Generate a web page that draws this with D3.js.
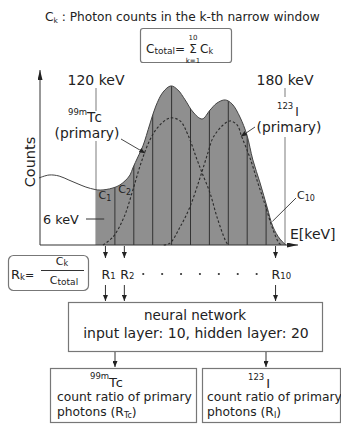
<!DOCTYPE html>
<html><head><meta charset="utf-8">
<script src="https://cdn.jsdelivr.net/npm/d3@7"></script>
<style>
html,body{margin:0;padding:0;background:#fff;}
svg{display:block;font-family:"DejaVu Sans",sans-serif;}
text{fill:#222;}
</style></head><body>
<svg id="chart" width="341" height="424"></svg>
<script>
// Energy spectrum: energy (keV) and relative counts
const energy = [101.9,105.1,108.3,111.4,114.3,116.8,119.7,121.3,123.2,125.4,127.3,129.2,130.8,131.7,133.3,134.9,137.1,139.0,141.3,143.8,146.0,148.3,150.8,153.7,156.2,158.4,161.0,163.2,165.7,167.9,169.8,172.1,174.3,176.2,178.4,180.3];
const counts = [38.3,40.0,39.4,37.1,34.9,33.1,31.7,31.4,31.7,32.6,34.0,36.6,40.0,44.0,50.3,56.6,69.1,79.4,87.4,90.9,88.6,82.9,76.0,72.0,77.1,81.1,82.9,80.6,73.1,62.9,48.6,35.4,21.7,10.3,3.4,0];

// 99mTc primary component
const tcEnergy = [122.2,125.4,128.9,131.7,134.3,137.1,139.7,143.5,146.7,149.2,152.1,153.7,156.2,158.4,161.0,161.9];
const tcCounts = [0,4.6,16.0,31.4,46.9,60.0,67.4,72.6,70.9,62.9,48.6,41.1,29.7,16.0,2.9,0];

// 123I primary component
const iEnergy = [141.5,143.5,146.7,149.8,153.0,155.6,157.1,160.0,162.5,164.8,166.3,168.9,171.4,173.7,175.9,178.1,179.0];
const iCounts = [0,1.1,10.3,21.7,38.3,53.1,61.1,68.0,70.9,68.6,61.7,49.7,35.4,22.9,10.3,1.1,0];

// Narrow energy windows (6 keV each)
const windowEdges = [120,126,132,138,144,150,156,162,168,174,180];
const windowNames = ["R1","R2","R3","R4","R5","R6","R7","R8","R9","R10"];
const markerEnergies = [120,180];
const markerLabels = ["120 keV","180 keV"];

const svg = d3.select("#chart");
const x = d3.scaleLinear().domain([120,180]).range([96,285]);
const y = d3.scaleLinear().domain([0,100]).range([245,70]);

const spec = energy.map((e,i)=>({e, c:counts[i]}));
const tc = tcEnergy.map((e,i)=>({e, c:tcCounts[i]}));
const iso = iEnergy.map((e,i)=>({e, c:iCounts[i]}));
const centers = windowEdges.slice(0,-1).map((e,i)=>(e+windowEdges[i+1])/2);

const curve = d3.curveCatmullRom.alpha(0.5);
const line = d3.line().x(d=>x(d.e)).y(d=>y(d.c)).curve(curve);
const area = d3.area().x(d=>x(d.e)).y0(y(0)).y1(d=>y(d.c)).curve(curve);

const defs = svg.append("defs");
function marker(id, w, h){
  defs.append("marker").attr("id",id)
    .attr("viewBox",`0 ${-h/2} ${w} ${h}`).attr("refX",w).attr("refY",0)
    .attr("markerWidth",w).attr("markerHeight",h)
    .attr("markerUnits","userSpaceOnUse").attr("orient","auto")
    .append("path").attr("d",`M0,${-h/2}L${w},0L0,${h/2}Z`).attr("fill","#222");
}
marker("ah",6,5);
marker("axisY",10,5);
marker("axisX",11,5);

defs.append("clipPath").attr("id","win").append("rect")
  .attr("x",x(120)).attr("y",0).attr("width",x(180)-x(120)).attr("height",y(0));
defs.append("clipPath").attr("id","under").append("path").attr("d",area(spec));

// 120 / 180 keV marker lines (broken where the labels sit)
const gap = [[88,111,141],[88,97,137]];
markerEnergies.forEach((e,i)=>{
  const g = svg.append("g").attr("stroke","#9a9a9a").attr("stroke-width",1.3);
  g.append("line").attr("x1",x(e)).attr("x2",x(e)).attr("y1",gap[i][0]).attr("y2",gap[i][1]);
  g.append("line").attr("x1",x(e)).attr("x2",x(e)).attr("y1",gap[i][2]).attr("y2",y(0));
});

// Shaded counts inside the 120-180 keV range, split into windows
const fillG = svg.append("g").attr("clip-path","url(#win)");
fillG.append("path").attr("d",area(spec)).attr("fill","#8f8f8f");
fillG.append("g").attr("clip-path","url(#under)")
  .selectAll("line").data(windowEdges.slice(1,-1)).join("line")
  .attr("x1",d=>x(d)).attr("x2",d=>x(d)).attr("y1",y(100)).attr("y2",y(0))
  .attr("stroke","#333").attr("stroke-width",1);

// Spectrum outline
svg.append("path").attr("d",line(spec)).attr("fill","none").attr("stroke","#444").attr("stroke-width",1);

// Primary components
[tc, iso].forEach(d=>{
  svg.append("path").attr("d",line(d)).attr("fill","none")
    .attr("stroke","#2a2a2a").attr("stroke-width",1.1).attr("stroke-dasharray","2.5,2");
});

// Axes
svg.append("line").attr("x1",40).attr("y1",y(0)).attr("x2",40).attr("y2",70)
  .attr("stroke","#333").attr("stroke-width",1).attr("marker-end","url(#axisY)");
svg.append("line").attr("x1",40).attr("y1",y(0)).attr("x2",298).attr("y2",y(0))
  .attr("stroke","#333").attr("stroke-width",1.2).attr("marker-end","url(#axisX)");

svg.append("text").attr("transform","translate(35,162) rotate(-90)").attr("text-anchor","middle")
  .attr("font-size",14.5).text("Counts");
svg.append("text").attr("x",290).attr("y",239).attr("font-size",14).text("E[keV]");

// Energy labels
markerEnergies.forEach((e,i)=>{
  svg.append("text").attr("x",x(e)).attr("y",85).attr("text-anchor","middle")
    .attr("font-size",14).text(markerLabels[i]);
});

// Title
const title = svg.append("text").attr("x",45).attr("y",21).attr("font-size",12.2);
title.append("tspan").text("C");
title.append("tspan").attr("font-size",7.5).attr("dy",2).text("k");
title.append("tspan").attr("dy",-2).text(" : Photon counts in the k-th narrow window");

// Sum box
svg.append("rect").attr("x",140.5).attr("y",28.5).attr("width",91).attr("height",34).attr("rx",2.5)
  .attr("fill","#fff").attr("stroke","#777").attr("stroke-width",1.2);
const ct = svg.append("text").attr("x",146).attr("y",53).attr("font-size",12);
ct.append("tspan").text("C");
ct.append("tspan").attr("font-size",9).attr("dy",1).text("total");
ct.append("tspan").attr("dy",-1).text("=");
svg.append("text").attr("x",193).attr("y",53).attr("text-anchor","middle").attr("font-size",12).text("Σ");
svg.append("text").attr("x",193).attr("y",39.5).attr("text-anchor","middle").attr("font-size",7).text("10");
svg.append("text").attr("x",193).attr("y",63).attr("text-anchor","middle").attr("font-size",7).text("k=1");
const ck = svg.append("text").attr("x",200).attr("y",53).attr("font-size",12);
ck.append("tspan").text("C");
ck.append("tspan").attr("font-size",8).attr("dy",1).text("k");

// Component labels
const tcl = svg.append("text").attr("x",68).attr("y",122).attr("font-size",13.5);
tcl.append("tspan").attr("font-size",8.5).attr("dy",-7).text("99m");
tcl.append("tspan").attr("dy",7).attr("letter-spacing",1.5).text("Tc");
svg.append("text").attr("x",87).attr("y",137.5).attr("text-anchor","middle").attr("font-size",13.8).text("(primary)");
const il = svg.append("text").attr("x",277).attr("y",115.5).attr("font-size",12);
il.append("tspan").attr("font-size",8.5).attr("dy",-7).text("123");
il.append("tspan").attr("dy",7).attr("dx",2).text("I");
svg.append("text").attr("x",289).attr("y",132).attr("text-anchor","middle").attr("font-size",13.8).text("(primary)");

// Leaders to the components
const tcTip = [135.6, 52.5], iTip = [166.0, 62], c10Tip = [176.0, 13.5];
svg.append("line").attr("x1",121).attr("y1",139).attr("x2",x(tcTip[0])).attr("y2",y(tcTip[1]))
  .attr("stroke","#333").attr("stroke-width",0.9).attr("marker-end","url(#ah)");
svg.append("line").attr("x1",255).attr("y1",127).attr("x2",x(iTip[0])).attr("y2",y(iTip[1]))
  .attr("stroke","#333").attr("stroke-width",0.9).attr("marker-end","url(#ah)");
svg.append("line").attr("x1",296).attr("y1",198).attr("x2",x(c10Tip[0])).attr("y2",y(c10Tip[1]))
  .attr("stroke","#333").attr("stroke-width",0.9);

// Window count labels
function cLabel(px, py, sub){
  const t = svg.append("text").attr("x",px).attr("y",py).attr("font-size",11);
  t.append("tspan").text("C");
  t.append("tspan").attr("font-size",8).attr("dy",1.5).text(sub);
}
cLabel(x(centers[0])-7, 199, "1");
cLabel(x(centers[1])-6, 193, "2");
cLabel(297, 199, "10");

// 6 keV window width
svg.append("text").attr("x",43).attr("y",224).attr("font-size",12.8).text("6 keV");
svg.append("line").attr("x1",86).attr("y1",219).attr("x2",x(122.6)).attr("y2",219)
  .attr("stroke","#333").attr("stroke-width",1);

// Ratios R_k
const shown = [0,1,9];
shown.forEach(k=>{
  const cx = x(centers[k]);
  svg.append("line").attr("x1",cx).attr("x2",cx).attr("y1",y(0)+1).attr("y2",258)
    .attr("stroke","#333").attr("stroke-width",1).attr("marker-end","url(#ah)");
  svg.append("line").attr("x1",cx).attr("x2",cx).attr("y1",285).attr("y2",301)
    .attr("stroke","#333").attr("stroke-width",1).attr("marker-end","url(#ah)");
  const t = svg.append("text").attr("x",cx-4).attr("y",279).attr("font-size",12.5);
  t.append("tspan").text("R");
  t.append("tspan").attr("font-size",8.5).text(windowNames[k].slice(1));
});
svg.selectAll("circle.dot").data(centers.slice(2,9)).join("circle").attr("class","dot")
  .attr("cx",d=>x(d)).attr("cy",274).attr("r",1.1).attr("fill","#333");

// R_k definition box
svg.append("rect").attr("x",8.5).attr("y",255.5).attr("width",80).attr("height",35).attr("rx",5)
  .attr("fill","#fff").attr("stroke","#777").attr("stroke-width",1.2);
const rk = svg.append("text").attr("x",11).attr("y",279).attr("font-size",13);
rk.append("tspan").text("R");
rk.append("tspan").attr("font-size",8.5).attr("dy",1).text("k");
rk.append("tspan").attr("dy",-1).attr("font-size",11).text("=");
const fn = svg.append("text").attr("x",62).attr("y",265).attr("text-anchor","middle").attr("font-size",11);
fn.append("tspan").text("C");
fn.append("tspan").attr("font-size",8).attr("dy",1).text("k");
svg.append("line").attr("x1",41).attr("x2",84).attr("y1",270.5).attr("y2",270.5).attr("stroke","#333").attr("stroke-width",1);
const fd = svg.append("text").attr("x",64).attr("y",284).attr("text-anchor","middle").attr("font-size",11);
fd.append("tspan").text("C");
fd.append("tspan").attr("font-size",9).attr("dy",1).text("total");

// Neural network box
svg.append("rect").attr("x",68.5).attr("y",302.5).attr("width",254).attr("height",49)
  .attr("fill","#fff").attr("stroke","#777").attr("stroke-width",1.2);
svg.append("text").attr("x",195).attr("y",320).attr("text-anchor","middle").attr("font-size",13.5).text("neural network");
svg.append("text").attr("x",196).attr("y",338).attr("text-anchor","middle").attr("font-size",14).text("input layer: 10, hidden layer: 20");

[115,266].forEach(px=>{
  svg.append("line").attr("x1",px).attr("x2",px).attr("y1",352).attr("y2",367)
    .attr("stroke","#333").attr("stroke-width",1).attr("marker-end","url(#ah)");
});

// Output boxes
svg.append("rect").attr("x",50.5).attr("y",368.5).attr("width",146).attr("height",54)
  .attr("fill","#fff").attr("stroke","#777").attr("stroke-width",1.2);
svg.append("rect").attr("x",202.5).attr("y",368.5).attr("width",138).attr("height",54)
  .attr("fill","#fff").attr("stroke","#777").attr("stroke-width",1.2);

const o1 = svg.append("text").attr("x",90).attr("y",387).attr("font-size",13);
o1.append("tspan").attr("font-size",8.5).attr("dy",-8).text("99m");
o1.append("tspan").attr("dy",8).attr("letter-spacing",1).text("Tc");
svg.append("text").attr("x",57).attr("y",401).attr("font-size",12.3).text("count ratio of primary");
const p1 = svg.append("text").attr("x",57).attr("y",416).attr("font-size",12.3);
p1.append("tspan").text("photons (R");
p1.append("tspan").attr("font-size",8).attr("dy",1.5).text("Tc");
p1.append("tspan").attr("dy",-1.5).text(")");

const o2 = svg.append("text").attr("x",248).attr("y",388).attr("font-size",13);
o2.append("tspan").attr("font-size",8.5).attr("dy",-8).text("123");
o2.append("tspan").attr("dy",8).attr("dx",2).text("I");
svg.append("text").attr("x",207).attr("y",401).attr("font-size",12.3).text("count ratio of primary");
const p2 = svg.append("text").attr("x",207).attr("y",416).attr("font-size",12.3);
p2.append("tspan").text("photons (R");
p2.append("tspan").attr("font-size",8).attr("dy",1.5).text("I");
p2.append("tspan").attr("dy",-1.5).text(")");
</script>
</body></html>
